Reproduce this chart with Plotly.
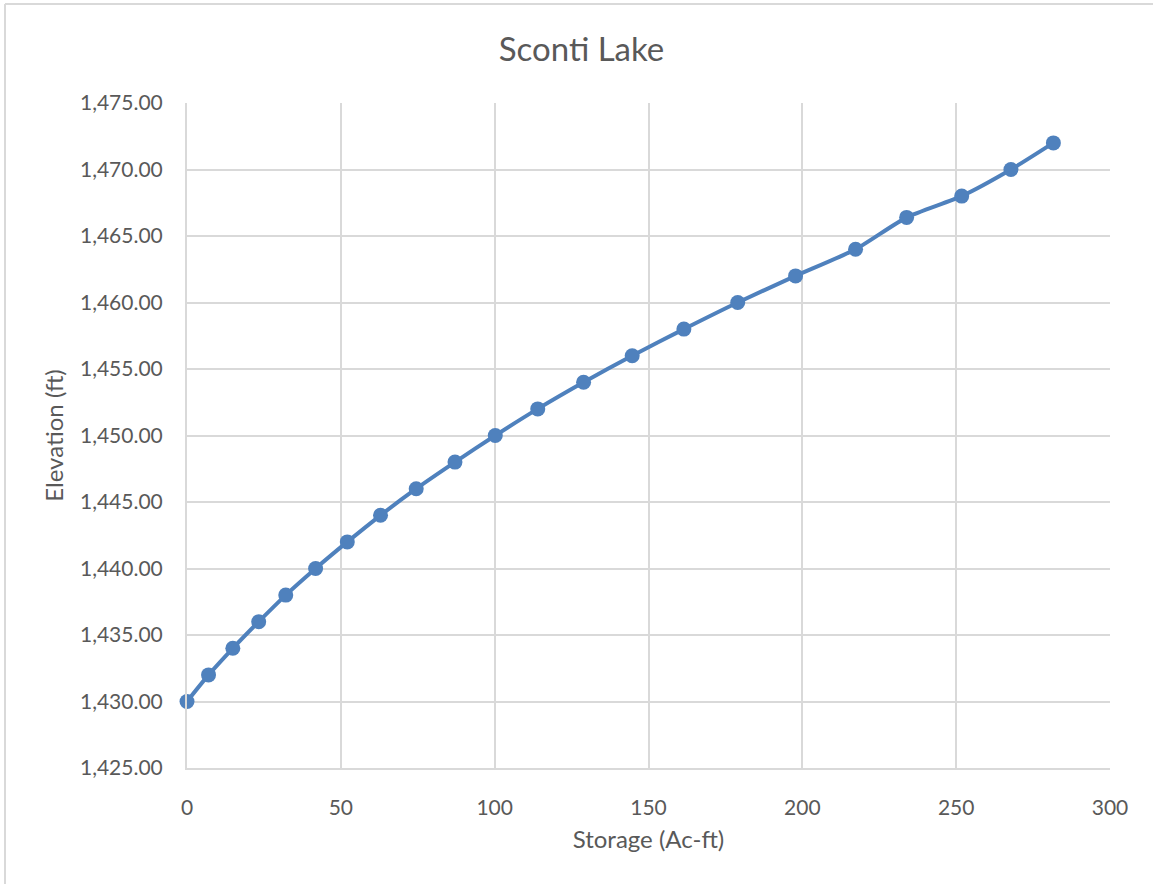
import plotly.graph_objects as go

# Stage-storage table for Sconti Lake
storage_acft = [0, 7.0, 14.9, 23.3, 32.1, 41.8, 52.1, 62.9, 74.5, 87.1, 100.2,
                114.0, 128.9, 144.7, 161.5, 179.0, 197.8, 217.3, 233.9, 251.8,
                267.8, 281.6]
elevation_ft = [1430, 1432, 1434, 1436, 1438, 1440, 1442, 1444, 1446, 1448, 1450,
                1452, 1454, 1456, 1458, 1460, 1462, 1464, 1466.4, 1468,
                1470, 1472]

x_ticks = [0, 50, 100, 150, 200, 250, 300]
y_ticks = [1425, 1430, 1435, 1440, 1445, 1450, 1455, 1460, 1465, 1470, 1475]

W, H = 1153, 884
L, R, T, B = 187, 43, 103, 116
FONT = "Lato, 'Open Sans', sans-serif"
TEXT = "#595959"
GRID = "#D9D9D9"
BLUE = "#4F81BD"

fig = go.Figure(go.Scatter(
    x=storage_acft, y=elevation_ft,
    mode="lines+markers",
    line=dict(color=BLUE, width=4, shape="spline", smoothing=0.6),
    marker=dict(color=BLUE, size=15),
    cliponaxis=False,
    showlegend=False,
))

fig.update_layout(
    width=W, height=H,
    margin=dict(l=L, r=R, t=T, b=B, pad=0),
    paper_bgcolor="white", plot_bgcolor="white",
    font=dict(family=FONT, color=TEXT, size=21),
    title=dict(text="Sconti Lake", x=581.5 / W, xanchor="center", xref="container",
               y=1 - 49 / H, yanchor="middle", yref="container",
               font=dict(size=33, color=TEXT, family=FONT)),
)

fig.update_xaxes(
    range=[0, 300], tickvals=x_ticks, ticktext=[str(v) for v in x_ticks],
    showgrid=True, gridcolor=GRID, gridwidth=1.5,
    showline=True, linecolor=GRID, linewidth=2, mirror=False,
    zeroline=False, ticks="", ticklabelstandoff=20,
    tickfont=dict(size=21, color=TEXT),
    title=dict(text="Storage (Ac-ft)", font=dict(size=24, color=TEXT), standoff=13),
)
fig.update_yaxes(
    range=[1425, 1475], tickvals=y_ticks,
    ticktext=[f"{v:,.2f}" for v in y_ticks],
    showgrid=True, gridcolor=GRID, gridwidth=1.5,
    showline=True, linecolor=GRID, linewidth=2,
    zeroline=False, ticks="", ticklabelstandoff=18,
    tickfont=dict(size=21, color=TEXT),
    title=dict(text="Elevation (ft)", font=dict(size=24, color=TEXT), standoff=10),
)

# Light frame around the chart (left and top edges)
pw, ph = W - L - R, H - T - B
fx0 = (5 - L) / pw
fy1 = 1 + (T - 4) / ph
fig.add_shape(type="line", xref="paper", yref="paper",
              x0=fx0, x1=fx0, y0=-B / ph, y1=fy1,
              line=dict(color=GRID, width=2))
fig.add_shape(type="line", xref="paper", yref="paper",
              x0=fx0, x1=1 + R / pw, y0=fy1, y1=fy1,
              line=dict(color=GRID, width=2))

fig.write_html("out.html")
